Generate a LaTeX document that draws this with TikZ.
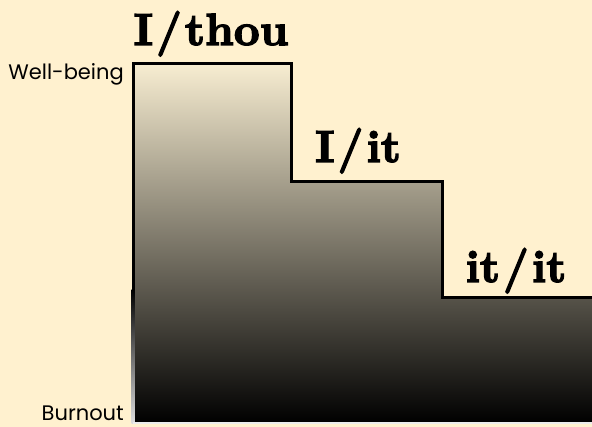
\documentclass[tikz,border=0pt]{standalone}
\usepackage{fontspec}
\setsansfont{Poppins}
\newfontfamily\heavyfont{lmroman10-bold.otf}[FakeBold=3]
\usetikzlibrary{positioning}

\definecolor{bgcream}{HTML}{FFF1CF}
\definecolor{stairtop}{HTML}{F7EDD1}

\begin{document}
\begin{tikzpicture}[x=1pt,y=-1pt,
    stairline/.style={line width=3pt, black, line join=miter},
    levellabel/.style={font=\heavyfont\fontsize{45}{45}\selectfont, anchor=base, inner sep=0pt},
    axislabel/.style={font=\sffamily\fontsize{21}{21}\selectfont, anchor=base east, inner sep=0pt}]
  % ── Canvas ──
  \fill[bgcream] (0,0) rectangle (592,427);
  \useasboundingbox (0,0) rectangle (592,427);

  % ── Staircase corners ──
  \coordinate (wb) at (133,64);
  \coordinate (s1) at (291,64);
  \coordinate (s1b) at (291,182);
  \coordinate (s2) at (442,182);
  \coordinate (s2b) at (442,298);
  \coordinate (edge) at (595,298);
  \coordinate (br) at (595,423);
  \coordinate (bl) at (133,423);

  % ── Gradient body ──
  \shade[top color=stairtop, bottom color=black]
    (bl) -- (wb) -- (s1) -- (s1b) -- (s2) -- (s2b) -- (edge) -- (br) -- cycle;

  % ── Outline ──
  \draw[stairline] (wb) -- (s1) -- (s1b) -- (s2) -- (s2b) -- (edge);
  \fill[black] (131.5,62.5) rectangle (134.5,290);
  \shade[top color=black, bottom color=gray!25]
    (131.5,290) rectangle (134.5,424);
  \draw[line width=2pt, gray!15] (bl) -- (br);

  % ── Level labels ──
  \node[levellabel] (thou) at (211,45) {I\kern3pt/\kern3pt thou};
  \node[levellabel] (iit) at (358,162) {I\kern3pt/\kern3pt it};
  \node[levellabel] (itit) at (516,282) {it\kern3pt/\kern3pt it};

  % ── Axis labels ──
  \node[axislabel] (wellbeing) at (124,80) {Well-being};
  \node[axislabel] (burnout) at (124,421) {Burnout};
\end{tikzpicture}
\end{document}
